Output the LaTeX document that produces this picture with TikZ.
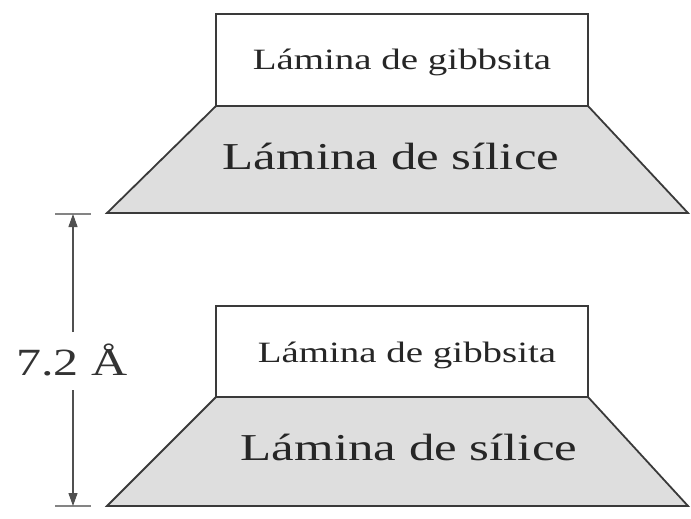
\documentclass[tikz,border=0pt]{standalone}
\usepackage{fontspec}
\setmainfont{Liberation Serif}
\usetikzlibrary{arrows.meta}
\definecolor{edge}{HTML}{3A3A3A}
\definecolor{sheet}{HTML}{DEDEDE}
\definecolor{dimc}{HTML}{505050}
\begin{document}
\begin{tikzpicture}[x=1pt,y=-1pt,
  layer/.style={draw=edge,line width=1.8pt,line join=miter},
  gibbs/.style={layer,fill=white},
  silice/.style={layer,fill=sheet},
  bigtxt/.style={font=\fontsize{38}{40}\selectfont,text=black!85,inner sep=0pt,anchor=base},
  smalltxt/.style={font=\fontsize{29.5}{31}\selectfont,text=black!85,inner sep=0pt,anchor=base},
  dimline/.style={draw=dimc,line width=1.1pt},
  tick/.style={draw=dimc!70,line width=1.6pt}
]
\useasboundingbox (0,0) rectangle (691,519);
% upper unit
\draw[silice] (216,106) -- (588,106) -- (688,213) -- (107,213) -- cycle;
\draw[gibbs] (216,14) rectangle (588,106);
\node[smalltxt] (g1) at (402,70) {\scalebox{1.32}[1]{Lámina de gibbsita}};
\node[bigtxt] (s1) at (391,169) {\scalebox{1.34}[1]{Lámina de sílice}};
% lower unit
\draw[silice] (216,397) -- (588,397) -- (688,506) -- (107,506) -- cycle;
\draw[gibbs] (216,306) rectangle (588,397);
\node[smalltxt] (g2) at (407,362) {\scalebox{1.32}[1]{Lámina de gibbsita}};
\node[bigtxt] (s2) at (409,460) {\scalebox{1.34}[1]{Lámina de sílice}};
% dimension
\coordinate (t1a) at (55,214); \coordinate (t1b) at (91,214);
\coordinate (t2a) at (55,506); \coordinate (t2b) at (91,506);
\coordinate (top) at (73,214); \coordinate (bot) at (73,506);
\draw[tick] (t1a) -- (t1b);
\draw[tick] (t2a) -- (t2b);
\node[font=\fontsize{38.5}{40}\selectfont,text=black!80,inner sep=0pt,anchor=base] (lbl) at (72,375) {\scalebox{1.3}[1]{7.2 Å}};
\draw[dimline,-{Triangle[length=13pt,width=9pt]}] (73,332) -- (top);
\draw[dimline,-{Triangle[length=13pt,width=9pt]}] (73,390) -- (bot);
\end{tikzpicture}
\end{document}
